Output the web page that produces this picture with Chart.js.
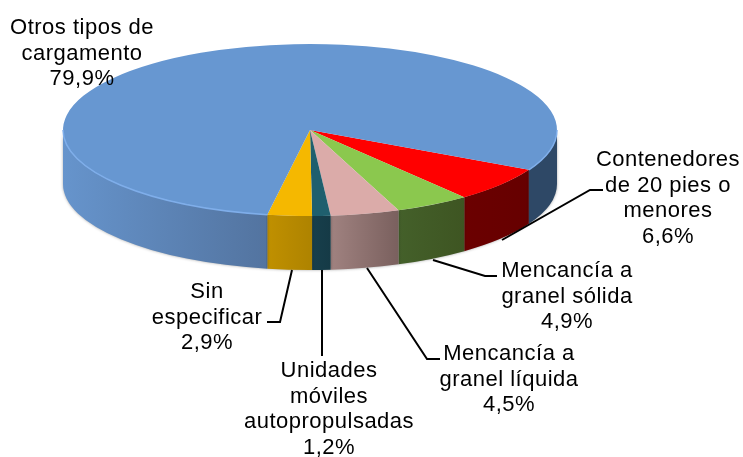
<!DOCTYPE html>
<html>
<head>
<meta charset="utf-8">
<style>html,body{margin:0;padding:0;background:#fff}canvas{display:block}</style>
<script src="https://cdn.jsdelivr.net/npm/chart.js@4/dist/chart.umd.min.js"></script>
</head>
<body>
<canvas id="c" width="743" height="457"></canvas>
<script>
const categories = ['Contenedores de 20 pies o menores','Mencancía a granel sólida','Mencancía a granel líquida','Unidades móviles autopropulsadas','Sin especificar','Otros tipos de cargamento'];
const values = [6.6,4.9,4.5,1.2,2.9,79.9];
const valueLabels = ['6,6%','4,9%','4,5%','1,2%','2,9%','79,9%'];
const topColors = ['#FF0000','#8BC84E','#DBABA9','#1F5F6E','#F5B800','#6797D1'];
const wallStart = ['#6B0000','#44602A','#A08280','#173F4C','#C09000','#6694CC'];
const wallEnd = ['#660000','#3E5522','#7A605E','#153A46','#AE8300','#2E4866'];
const labelLines = [['Contenedores','de 20 pies o','menores'],['Mencancía a','granel sólida'],['Mencancía a','granel líquida'],['Unidades','móviles','autopropulsadas'],['Sin','especificar'],['Otros tipos de','cargamento']];
const labelCenterX = [668,567,509,329,207,82];
const labelFirstY = [160,271,354,371,292,28];
const leaderLines = [
  [[502,240],[590,190],[603,190]],
  [[433,260],[485,276],[497,276]],
  [[367,268],[427,359],[440,359]],
  [[322,270],[322,356]],
  [[292,270],[280,322],[267,322]],
  []
];
const pie = {cx:310, cy:130, rx:247, ry:86, depth:54};

function frontRanges(a,b){
  const out=[], T=Math.PI*2;
  for(let k=-2;k<=2;k++){
    const s=Math.max(a,k*T), e=Math.min(b,k*T+Math.PI);
    if(e>s) out.push([s,e]);
  }
  return out;
}
const pie3d = {
  id:'pie3d',
  beforeDatasetsDraw(chart){
    const ctx=chart.ctx, arcs=chart.getDatasetMeta(0).data;
    arcs.forEach((el,i)=>{
      const {startAngle,endAngle}=el.getProps(['startAngle','endAngle'],true);
      const lastBlue = i===arcs.length-1;
      const g=ctx.createLinearGradient(pie.cx-pie.rx,0,pie.cx+pie.rx,0);
      if(lastBlue){
        g.addColorStop(0,wallStart[i]); g.addColorStop(.41,'#5374A0');
        g.addColorStop(.42,wallEnd[i]); g.addColorStop(1,wallEnd[i]);
      }else{
        const xs=frontRanges(startAngle,endAngle)[0];
        const x1=pie.cx+pie.rx*Math.cos(xs[0]), x0=pie.cx+pie.rx*Math.cos(xs[1]);
        const h=ctx.createLinearGradient(x0,0,x1,0);
        h.addColorStop(0,wallStart[i]); h.addColorStop(1,wallEnd[i]);
        drawWall(ctx,xs,h,i); return;
      }
      frontRanges(startAngle,endAngle).forEach(r=>drawWall(ctx,r,g,i));
    });
    ctx.save();
    ctx.translate(pie.cx,pie.cy);
    ctx.scale(pie.rx/arcs[0].outerRadius,pie.ry/arcs[0].outerRadius);
    ctx.translate(-arcs[0].x,-arcs[0].y);
  },
  afterDatasetsDraw(chart){
    const ctx=chart.ctx, arcs=chart.getDatasetMeta(0).data;
    ctx.restore();
    const last=arcs[arcs.length-1];
    ctx.save();
    ctx.strokeStyle='#7FAEEA'; ctx.lineWidth=1.5;
    frontRanges(last.startAngle,last.endAngle).forEach(r=>{
      if(r[0]>1){ctx.beginPath();ctx.ellipse(pie.cx,pie.cy,pie.rx,pie.ry,0,r[0],r[1]);ctx.stroke();}
    });
    ctx.restore();
  },
  afterDraw(chart){
    const ctx=chart.ctx;
    ctx.save();
    ctx.strokeStyle='#000'; ctx.lineWidth=2; ctx.lineJoin='miter';
    leaderLines.forEach(l=>{
      if(!l.length) return;
      ctx.beginPath(); l.forEach((p,i)=>i?ctx.lineTo(p[0],p[1]):ctx.moveTo(p[0],p[1])); ctx.stroke();
    });
    ctx.fillStyle='#000';
    ctx.font='22px "Liberation Sans", Arial, sans-serif';
    ctx.textAlign='center'; ctx.textBaseline='middle';
    ctx.letterSpacing='0.5px';
    categories.forEach((c,i)=>{
      const lines=labelLines[i].concat(valueLabels[i]);
      lines.forEach((t,k)=>ctx.fillText(t,labelCenterX[i],labelFirstY[i]+k*25.7));
    });
    ctx.restore();
  }
};
function drawWall(ctx,r,fill,i){
  ctx.save();
  ctx.shadowColor='rgba(0,0,0,.35)'; ctx.shadowBlur=3;
  ctx.fillStyle=fill;
  ctx.beginPath();
  ctx.ellipse(pie.cx,pie.cy,pie.rx,pie.ry,0,r[0],r[1]);
  ctx.ellipse(pie.cx,pie.cy+pie.depth,pie.rx,pie.ry,0,r[1],r[0],true);
  ctx.closePath(); ctx.fill();
  ctx.restore();
}
new Chart(document.getElementById('c'),{
  type:'pie',
  data:{labels:categories,datasets:[{data:values,backgroundColor:topColors,borderWidth:0,clip:false}]},
  options:{
    responsive:false,animation:false,rotation:117.6,radius:247,
    layout:{padding:0},
    plugins:{legend:{display:false},tooltip:{enabled:false}}
  },
  plugins:[pie3d]
});
</script>
</body>
</html>
